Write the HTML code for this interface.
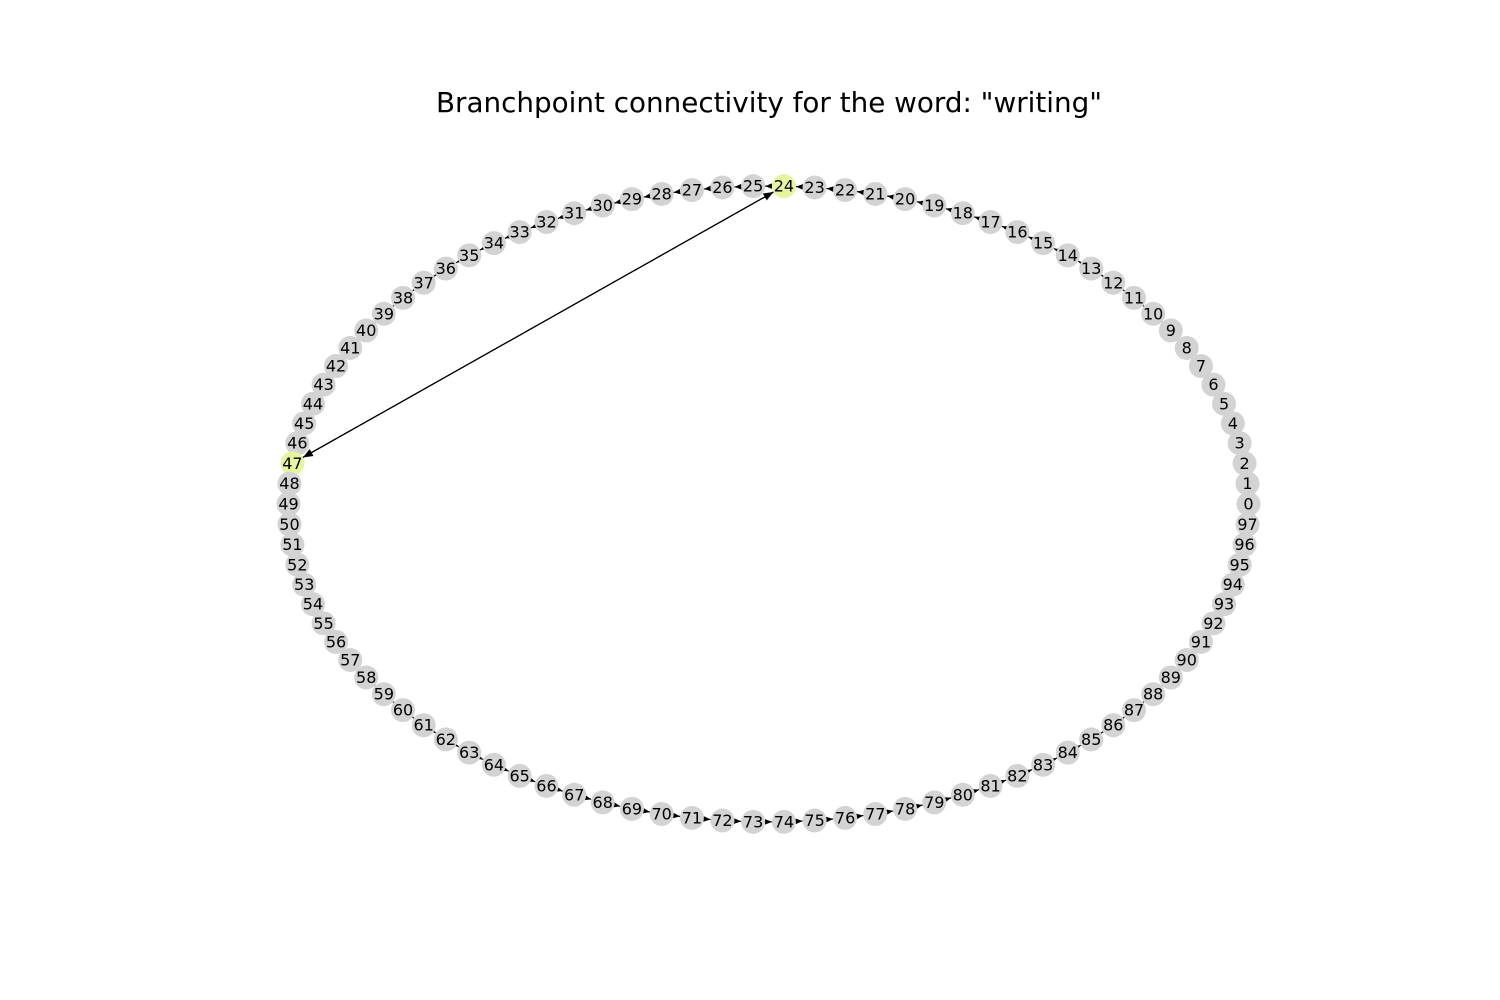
<!DOCTYPE html>
<html><head><meta charset="utf-8"><style>body{margin:0;background:#fff}svg{display:block}</style></head>
<body>
<svg id="chart" width="1500" height="1000" xmlns="http://www.w3.org/2000/svg">
<rect width="1500" height="1000" fill="#fff"/>
<text x="769" y="112" text-anchor="middle" font-family="DejaVu Sans, Liberation Sans, sans-serif" font-size="27.8">Branchpoint connectivity for the word: "writing"</text>
<defs><marker id="ah" viewBox="0 0 10 10" refX="10" refY="5" markerWidth="7" markerHeight="7" markerUnits="userSpaceOnUse" orient="auto"><path d="M0,1 L10,5 L0,9 z" fill="#000"/></marker>
<marker id="ah2" viewBox="0 0 10 10" refX="10" refY="5" markerWidth="10" markerHeight="10" markerUnits="userSpaceOnUse" orient="auto"><path d="M0,1 L10,5 L0,9 z" fill="#000"/></marker></defs>
<g id="edges"></g><g id="nodes"></g>
</svg>
<script>
const nodeCount = 98;
const highlighted = [24, 47];
const extraEdges = [[24, 47], [47, 24]];
const cx = 768.5, cy = 504, rx = 480, ry = 318, nr = 12;
const NS = 'http://www.w3.org/2000/svg';
function pos(i){const a=2*Math.PI*i/nodeCount;return [cx+rx*Math.cos(a), cy-ry*Math.sin(a)];}
const eg=document.getElementById('edges'), ng=document.getElementById('nodes');
function edge(a,b,big){
  const [x1,y1]=pos(a),[x2,y2]=pos(b);const dx=x2-x1,dy=y2-y1,d=Math.hypot(dx,dy);
  const l=document.createElementNS(NS,'line');
  l.setAttribute('x1',x1+dx/d*nr);l.setAttribute('y1',y1+dy/d*nr);
  l.setAttribute('x2',x2-dx/d*nr);l.setAttribute('y2',y2-dy/d*nr);
  l.setAttribute('stroke','#000');l.setAttribute('stroke-width','1.2');
  l.setAttribute('marker-end',big?'url(#ah2)':'url(#ah)');
  
  
  eg.appendChild(l);
}
for(let i=0;i<nodeCount-1;i++) edge(i,i+1,false);
extraEdges.forEach(e=>edge(e[0],e[1],true));
for(let i=0;i<nodeCount;i++){
  const [x,y]=pos(i);
  const c=document.createElementNS(NS,'circle');
  c.setAttribute('cx',x);c.setAttribute('cy',y);c.setAttribute('r',nr);
  c.setAttribute('fill',highlighted.includes(i)?'#e6f5a0':'#d3d3d3');
  
  
  ng.appendChild(c);
  const t=document.createElementNS(NS,'text');
  t.setAttribute('x',x);t.setAttribute('y',y+5.5);t.setAttribute('text-anchor','middle');
  t.setAttribute('font-family','DejaVu Sans, Liberation Sans, sans-serif');t.setAttribute('font-size','16');
  t.textContent=i;
  
  
  ng.appendChild(t);
}
</script>
</body></html>
